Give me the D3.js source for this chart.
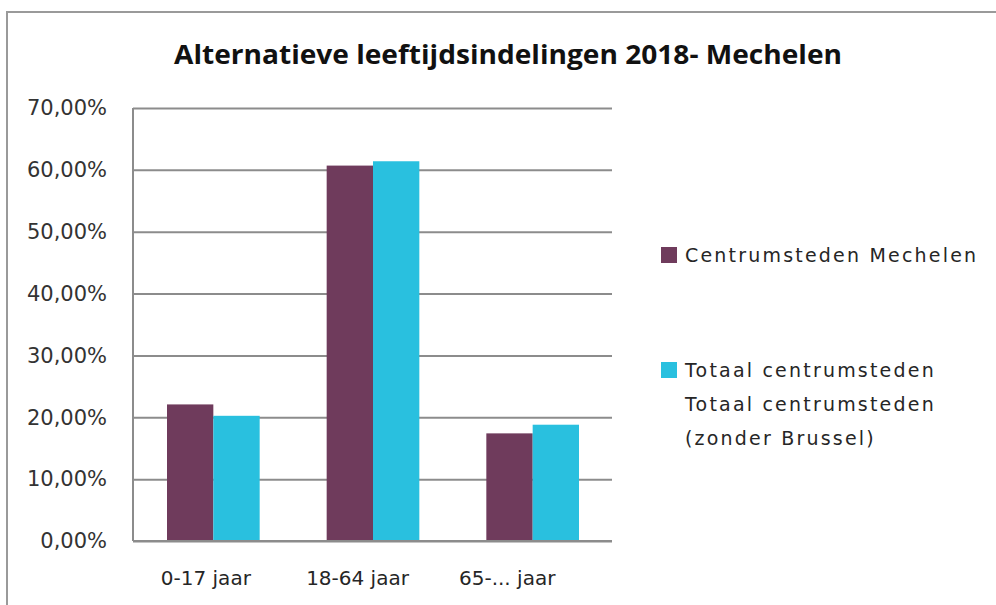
<!DOCTYPE html>
<html>
<head>
<meta charset="utf-8">
<script src="https://cdn.jsdelivr.net/npm/d3@7"></script>
<style>
  body { margin: 0; background: #fff; }
  text { font-family: "DejaVu Sans", sans-serif; fill: #262626; }
</style>
</head>
<body>
<div id="chart"></div>
<script>
const categories = ["0-17 jaar", "18-64 jaar", "65-... jaar"];
const seriesNames = ["Centrumsteden Mechelen", "Totaal centrumsteden"];
const mechelen = [0.2208, 0.6069, 0.1740];
const totaal = [0.2024, 0.6139, 0.1880];
const yTicks = [0, 0.1, 0.2, 0.3, 0.4, 0.5, 0.6, 0.7];
const legendLines = [["Centrumsteden Mechelen"], ["Totaal centrumsteden", "Totaal centrumsteden", "(zonder Brussel)"]];
const colors = ["#6f3b5c", "#29c0df"];

const W = 996, H = 605;
const margin = {top: 108, right: 384, bottom: 64, left: 133};
const width = W - margin.left - margin.right;
const height = H - margin.top - margin.bottom;

const svg = d3.select("#chart").append("svg")
    .attr("width", W)
    .attr("height", H);

// outer frame
svg.append("rect")
    .attr("x", 7).attr("y", 12)
    .attr("width", W + 10).attr("height", H + 10)
    .attr("fill", "#fff")
    .attr("stroke", "#9a9a9a")
    .attr("stroke-width", 2);

svg.append("text")
    .attr("x", 508).attr("y", 64)
    .attr("text-anchor", "middle")
    .attr("textLength", 668)
    .attr("lengthAdjust", "spacingAndGlyphs")
    .style("font-family", "'Open Sans', sans-serif")
    .style("font-weight", "bold")
    .style("font-size", "27px")
    .style("fill", "#111")
    .text("Alternatieve leeftijdsindelingen 2018- Mechelen");

const g = svg.append("g").attr("transform", `translate(${margin.left},${margin.top})`);

const x0 = d3.scaleBand().domain(categories).range([0, width]).paddingInner(0).paddingOuter(0);
const x1 = d3.scaleBand().domain(seriesNames).range([34, x0.bandwidth() - 33]).padding(0);
const y = d3.scaleLinear().domain([0, 0.7]).range([height, 0]);

const yAxis = d3.axisLeft(y)
    .tickValues(yTicks)
    .tickSize(-width)
    .tickPadding(26)
    .tickFormat(d => d3.format(".2f")(d * 100).replace(".", ",") + "%");

g.append("g")
    .attr("class", "y-axis")
    .call(yAxis)
    .call(a => a.select(".domain").remove())
    .call(a => a.selectAll(".tick line").attr("stroke", "#8c8c8c").attr("stroke-width", 2))
    .call(a => a.selectAll(".tick text").style("font-size", "21px").style("fill", "#333").style("font-family", "'DejaVu Sans', sans-serif"));

// left axis line
g.append("line")
    .attr("x1", 0).attr("x2", 0)
    .attr("y1", y(0.7)).attr("y2", y(0))
    .attr("stroke", "#8c8c8c").attr("stroke-width", 2);

const rows = categories.map((c, i) => ({cat: c, vals: [mechelen[i], totaal[i]]}));

const groups = g.selectAll(".grp")
    .data(rows)
    .enter().append("g")
    .attr("class", "grp")
    .attr("transform", d => `translate(${x0(d.cat)},0)`);

groups.selectAll("rect")
    .data(d => d.vals.map((v, k) => ({name: seriesNames[k], v: v, k: k})))
    .enter().append("rect")
    .attr("x", d => x1(d.name))
    .attr("y", d => y(d.v))
    .attr("width", x1.bandwidth())
    .attr("height", d => y(0) - y(d.v))
    .attr("fill", d => colors[d.k]);

// baseline drawn over bars
g.append("line")
    .attr("x1", 0).attr("x2", width)
    .attr("y1", y(0)).attr("y2", y(0))
    .attr("stroke", "#8c8c8c").attr("stroke-width", 2);

const xAxis = d3.axisBottom(x0).tickSize(0).tickPadding(30);
g.append("g")
    .attr("class", "x-axis")
    .attr("transform", `translate(0,${height})`)
    .call(xAxis)
    .call(a => a.select(".domain").remove())
    .call(a => a.selectAll(".tick text")
        .attr("dx", (d, i) => [-7, -15, -25][i])
        .style("font-size", "20px").style("fill", "#262626").style("font-family", "'DejaVu Sans', sans-serif"));

// legend
const legendY = [255, 370];
const legend = svg.append("g").attr("class", "legend");
legendLines.forEach((lines, i) => {
    legend.append("rect")
        .attr("x", 661).attr("y", legendY[i] - 8)
        .attr("width", 16).attr("height", 16)
        .attr("fill", colors[i]);
    lines.forEach((t, j) => {
        legend.append("text")
            .attr("x", 685).attr("y", legendY[i] + j * 34)
            .attr("dominant-baseline", "central")
            .style("font-size", "19px")
            .style("letter-spacing", "2.2px")
            .text(t);
    });
});
</script>
</body>
</html>
